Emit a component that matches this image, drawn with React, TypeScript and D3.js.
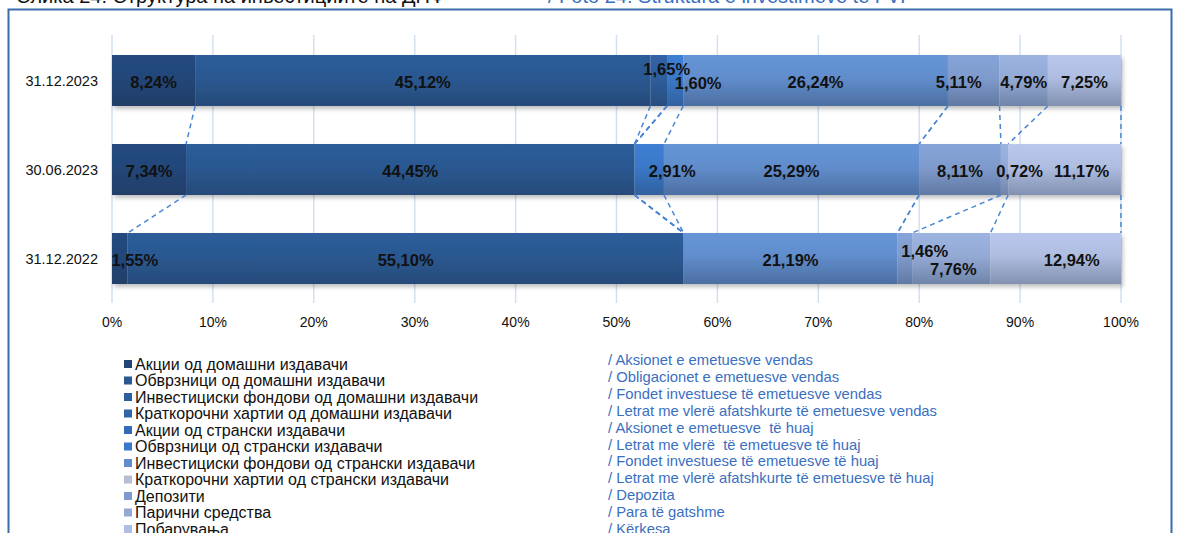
import React from "react";
import * as d3 from "d3";

// rows, top to bottom
const dates = ["31.12.2023", "30.06.2023", "31.12.2022"];

const seriesMk = [
  "Акции од домашни издавачи",
  "Обврзници од домашни издавачи",
  "Инвестициски фондови од домашни издавачи",
  "Краткорочни хартии од домашни издавачи",
  "Акции од странски издавачи",
  "Обврзници од странски издавачи",
  "Инвестициски фондови од странски издавачи",
  "Краткорочни хартии од странски издавачи",
  "Депозити",
  "Парични средства",
  "Побарувања",
];

const seriesSq = [
  "/ Aksionet e emetuesve vendas",
  "/ Obligacionet e emetuesve vendas",
  "/ Fondet investuese të emetuesve vendas",
  "/ Letrat me vlerë afatshkurte të emetuesve vendas",
  "/ Aksionet e emetuesve  të huaj",
  "/ Letrat me vlerë  të emetuesve të huaj",
  "/ Fondet investuese të emetuesve të huaj",
  "/ Letrat me vlerë afatshkurte të emetuesve të huaj",
  "/ Depozita",
  "/ Para të gatshme",
  "/ Kërkesa",
];

// values in %, one array per date (same order as series)
const values2023Dec = [8.24, 45.12, 1.65, 0, 0, 1.6, 26.24, 0, 5.11, 4.79, 7.25];
const values2023Jun = [7.34, 44.45, 0, 0, 0, 2.91, 25.29, 0, 8.11, 0.72, 11.17];
const values2022Dec = [1.55, 55.1, 0, 0, 0, 0, 21.19, 0, 1.46, 7.76, 12.94];

const xTicks = [0, 10, 20, 30, 40, 50, 60, 70, 80, 90, 100];

const colors = [
  "#234679", "#2b5891", "#2e5e9c", "#3164a8", "#3469b4", "#3a78c8",
  "#618dcc", "#b6bed0", "#7f9bcd", "#94aad5", "#aebde0",
];

// manual label nudges (Excel labels moved by hand)
const nudges: Record<string, [number, number]> = {
  "0-2": [8, -13],
  "0-5": [23, 1],
  "0-8": [-15, 0],
  "1-5": [23, 0],
  "1-9": [15, 0],
  "1-10": [17, 0],
  "2-0": [15, 0],
  "2-8": [20, -9],
  "2-9": [2, 9],
  "2-10": [16, 0],
};

const font = "'Liberation Sans', Arial, sans-serif";

export default function App() {
  const width = 1180,
    height = 533;

  const rows = [values2023Dec, values2023Jun, values2022Dec];

  const x = d3.scaleLinear().domain([0, 100]).range([112, 1121]);
  const y = d3
    .scaleBand<string>()
    .domain(dates)
    .range([36, 303])
    .paddingInner(0.427)
    .paddingOuter(0.2135);

  // stack: cumulative starts/ends per row
  const stacked = rows.map((vals) => {
    let acc = 0;
    return vals.map((v) => {
      const s = acc;
      acc += v;
      return { s, e: acc, v };
    });
  });

  const fmt = (v: number) => v.toFixed(2).replace(".", ",") + "%";

  return (
    <svg
      width={width}
      height={height}
      style={{ position: "absolute", left: 0, top: 0, background: "#fff" }}
      fontFamily={font}
    >
      <defs>
        {colors.map((c, i) => {
          const top = d3.color(c)!.brighter(0.15).formatHex();
          const bottom = d3.interpolateRgb(c, "#1a2a40")(0.3);
          return (
            <linearGradient key={i} id={`g${i}`} x1="0" y1="0" x2="0" y2="1">
              <stop offset="0%" stopColor={top} />
              <stop offset="45%" stopColor={c} />
              <stop offset="100%" stopColor={bottom} />
            </linearGradient>
          );
        })}
        <filter id="shadow" x="-5%" y="-20%" width="110%" height="150%">
          <feDropShadow dx="2" dy="3" stdDeviation="2" floodColor="#000" floodOpacity="0.25" />
        </filter>
      </defs>

      {/* title, cut by the top edge as in the source */}
      <text x={16} y={3} fontSize={20} fill="#111">
        Слика 24: Структура на инвестициите на ДПФ
      </text>
      <text x={548} y={3} fontSize={20} fill="#3a6fbf">
        / Foto 24: Struktura e investimeve të FVP
      </text>

      {/* frame */}
      <path d={`M8.5,${height + 5}V9.5H1171.5V${height + 5}`} fill="none" stroke="#3d6ca9" strokeWidth={2} />

      {/* gridlines */}
      {xTicks.map((t) => (
        <line key={t} x1={x(t)} x2={x(t)} y1={35} y2={303} stroke="#d3e0f2" strokeWidth={1.5} />
      ))}

      {/* bars */}
      {dates.map((d, r) => (
        <g key={d} filter="url(#shadow)">
          {stacked[r].map((seg, i) =>
            seg.v > 0 ? (
              <rect
                key={i}
                x={x(seg.s)}
                y={y(d)}
                width={x(seg.e) - x(seg.s)}
                height={y.bandwidth()}
                fill={`url(#g${i})`}
              />
            ) : null
          )}
        </g>
      ))}

      {/* series lines */}
      {[0, 1].map((r) =>
        stacked[r].map((seg, i) => (
          <line
            key={`${r}-${i}`}
            x1={x(seg.e)}
            y1={y(dates[r])! + y.bandwidth()}
            x2={x(stacked[r + 1][i].e)}
            y2={y(dates[r + 1])}
            stroke="#4a86d4"
            strokeWidth={1.5}
            strokeDasharray="5,4"
          />
        ))
      )}

      {/* data labels */}
      {dates.map((d, r) =>
        stacked[r].map((seg, i) => {
          if (seg.v <= 0) return null;
          const [dx, dy] = nudges[`${r}-${i}`] || [0, 0];
          return (
            <text
              key={`${r}-${i}`}
              x={(x(seg.s) + x(seg.e)) / 2 + dx}
              y={y(d)! + y.bandwidth() / 2 + 1.5 + dy}
              textAnchor="middle"
              dominantBaseline="central"
              fontSize={16.5}
              fontWeight="bold"
              fill="#111"
            >
              {fmt(seg.v)}
            </text>
          );
        })
      )}

      {/* category labels */}
      {dates.map((d) => (
        <text
          key={d}
          x={98}
          y={y(d)! + y.bandwidth() / 2}
          textAnchor="end"
          dominantBaseline="central"
          fontSize={14.5}
          fill="#111"
        >
          {d}
        </text>
      ))}

      {/* x tick labels */}
      {xTicks.map((t) => (
        <text key={t} x={x(t)} y={322} textAnchor="middle" dominantBaseline="central" fontSize={14} fill="#111">
          {t}%
        </text>
      ))}

      {/* legend */}
      {seriesMk.map((s, i) => (
        <g key={s}>
          <rect x={124} y={364 + i * 16.5 - 4} width={8} height={8} fill={colors[i]} />
          <text x={135} y={364 + i * 16.5} dominantBaseline="central" fontSize={16} fill="#111">
            {s}
          </text>
        </g>
      ))}
      {seriesSq.map((s, i) => (
        <text
          key={s}
          x={608}
          y={360 + i * 16.9}
          dominantBaseline="central"
          fontSize={14.8}
          fill="#3a6fbf"
          style={{ whiteSpace: "pre" }}
        >
          {s}
        </text>
      ))}
    </svg>
  );
}
